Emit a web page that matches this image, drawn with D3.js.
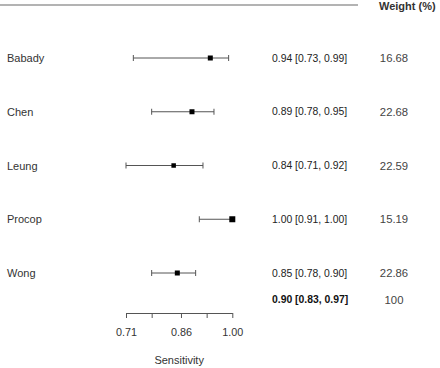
<!DOCTYPE html>
<html>
<head>
<meta charset="utf-8">
<script src="https://cdn.jsdelivr.net/npm/d3@7"></script>
<style>
    body { margin: 0; background: #fff; }
    svg { display: block; font-family: "Liberation Sans", Arial, sans-serif; }
</style>
</head>
<body>
<div id="container"></div>
<script>
const studies = ['Babady', 'Chen', 'Leung', 'Procop', 'Wong'];
const estimates = [0.94, 0.89, 0.84, 1.00, 0.85];
const lower = [0.73, 0.78, 0.71, 0.91, 0.78];
const upper = [0.99, 0.95, 0.92, 1.00, 0.90];
const weights = ['16.68', '22.68', '22.59', '15.19', '22.86'];
const markerSize = [5, 5, 4.5, 6, 5];
const summary = { est: 0.90, lo: 0.83, hi: 0.97, weight: '100' };
const tickValues = [0.71, 0.78, 0.86, 0.93, 1.00];
const tickLabels = ['0.71', '', '0.86', '', '1.00'];

const w = 440;
const h = 368;

const svg = d3.select('#container').append('svg')
    .attr('width', w)
    .attr('height', h);

const xScale = d3.scaleLinear()
    .domain([0.71, 1.00])
    .range([126, 232.3]);

const yScale = d3.scaleLinear()
    .domain([0, 4])
    .range([58, 273]);

const fmt = d3.format('.2f');

// top rule and header
svg.append('line')
    .attr('x1', 0).attr('x2', 358)
    .attr('y1', 5).attr('y2', 5)
    .attr('stroke', '#9a9a9a')
    .attr('stroke-width', 1.5);

svg.append('text')
    .attr('x', 379).attr('y', 10)
    .attr('font-size', 11)
    .attr('font-weight', 'bold')
    .attr('fill', '#333')
    .text('Weight (%)');

const rows = svg.selectAll('.row')
    .data(studies)
    .enter()
    .append('g')
    .attr('class', 'row')
    .attr('transform', (d, i) => `translate(0, ${yScale(i)})`);

rows.append('text')
    .attr('x', 7).attr('y', 4)
    .attr('font-size', 11)
    .attr('fill', '#333')
    .text(d => d);

rows.append('line')
    .attr('x1', (d, i) => xScale(lower[i]))
    .attr('x2', (d, i) => xScale(upper[i]))
    .attr('stroke', '#555')
    .attr('stroke-width', 1);

rows.append('line')
    .attr('x1', (d, i) => xScale(lower[i]))
    .attr('x2', (d, i) => xScale(lower[i]))
    .attr('y1', -3).attr('y2', 3)
    .attr('stroke', '#555');

rows.filter((d, i) => upper[i] !== estimates[i])
    .append('line')
    .attr('x1', d => xScale(upper[studies.indexOf(d)]))
    .attr('x2', d => xScale(upper[studies.indexOf(d)]))
    .attr('y1', -3).attr('y2', 3)
    .attr('stroke', '#555');

rows.append('rect')
    .attr('x', (d, i) => xScale(estimates[i]) - markerSize[i] / 2)
    .attr('y', (d, i) => -markerSize[i] / 2)
    .attr('width', (d, i) => markerSize[i])
    .attr('height', (d, i) => markerSize[i])
    .attr('fill', '#000');

rows.append('text')
    .attr('x', 272).attr('y', 3.5)
    .attr('font-size', 10.4)
    .attr('fill', '#222')
    .text((d, i) => `${fmt(estimates[i])} [${fmt(lower[i])}, ${fmt(upper[i])}]`);

rows.append('text')
    .attr('x', 394).attr('y', 4)
    .attr('text-anchor', 'middle')
    .attr('font-size', 11.3)
    .attr('fill', '#444')
    .text((d, i) => weights[i]);

// summary row (no diamond)
const ySum = yScale(4.5);
svg.append('text')
    .attr('x', 272).attr('y', ySum + 3.5)
    .attr('font-size', 10.4)
    .attr('font-weight', 'bold')
    .attr('fill', '#111')
    .text(`${fmt(summary.est)} [${fmt(summary.lo)}, ${fmt(summary.hi)}]`);

svg.append('text')
    .attr('x', 394).attr('y', ySum + 4)
    .attr('text-anchor', 'middle')
    .attr('font-size', 11.3)
    .attr('fill', '#444')
    .text(summary.weight);

// x axis
const xAxis = d3.axisBottom(xScale)
    .tickValues(tickValues)
    .tickSize(5)
    .tickSizeOuter(0)
    .tickFormat((d, i) => tickLabels[i]);

const axisG = svg.append('g')
    .attr('transform', 'translate(0, 313)')
    .call(xAxis);

axisG.select('.domain').attr('stroke', '#555');
axisG.selectAll('.tick line').attr('stroke', '#555');
axisG.selectAll('.tick text')
    .attr('y', 15)
    .attr('font-size', 10.8)
    .attr('font-family', '"Liberation Sans", Arial, sans-serif')
    .attr('fill', '#333');

svg.append('text')
    .attr('x', xScale(0.855)).attr('y', 364)
    .attr('text-anchor', 'middle')
    .attr('font-size', 11)
    .attr('fill', '#333')
    .text('Sensitivity');
</script>
</body>
</html>
